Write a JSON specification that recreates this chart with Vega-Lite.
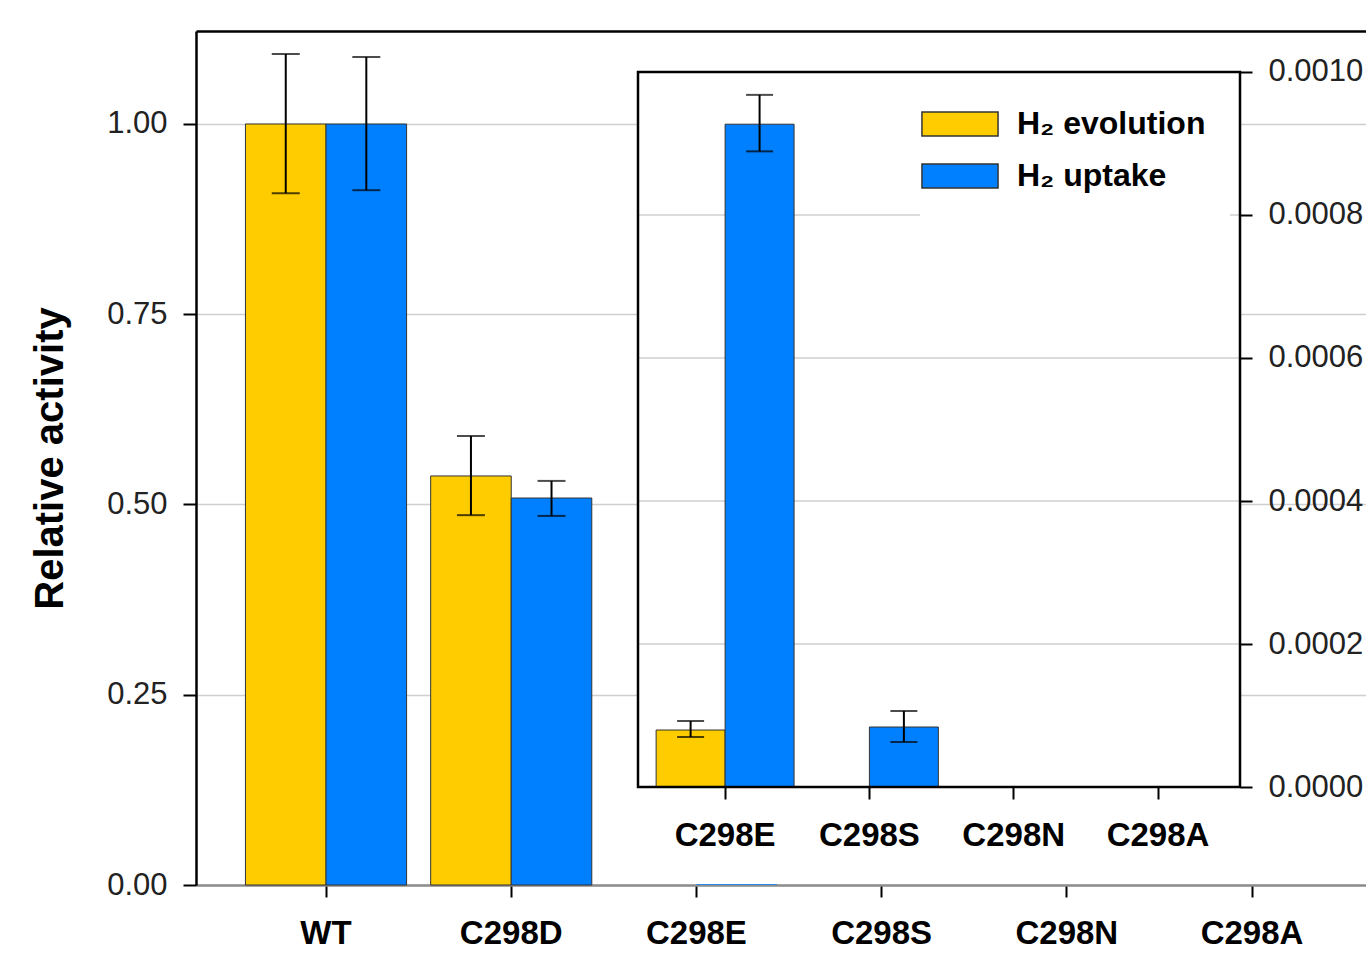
{
  "$schema": "https://vega.github.io/schema/vega-lite/v6.json",
  "autosize": "none",
  "width": 1170,
  "height": 854,
  "padding": {"left": 196, "top": 31, "right": 0, "bottom": 73},
  "background": "white",
  "config": {
    "view": {"stroke": null},
    "font": "Liberation Sans",
    "axis": {"labelFont": "Liberation Sans", "titleFont": "Liberation Sans", "tickColor": "black", "tickWidth": 2, "domainWidth": 2.5}
  },
  "datasets": {
    "activity": [
      {"mutant": "WT", "series": "H₂ evolution", "activity": 1.0, "lo": 0.909, "hi": 1.092},
      {"mutant": "WT", "series": "H₂ uptake", "activity": 1.0, "lo": 0.913, "hi": 1.088},
      {"mutant": "C298D", "series": "H₂ evolution", "activity": 0.5375, "lo": 0.486, "hi": 0.590},
      {"mutant": "C298D", "series": "H₂ uptake", "activity": 0.5085, "lo": 0.485, "hi": 0.531},
      {"mutant": "C298E", "series": "H₂ evolution", "activity": 0.0000797, "lo": 0.0000699, "hi": 0.0000923},
      {"mutant": "C298E", "series": "H₂ uptake", "activity": 0.000927, "lo": 0.000889, "hi": 0.000968},
      {"mutant": "C298S", "series": "H₂ evolution", "activity": 0, "lo": null, "hi": null},
      {"mutant": "C298S", "series": "H₂ uptake", "activity": 0.0000839, "lo": 0.0000629, "hi": 0.0001063},
      {"mutant": "C298N", "series": "H₂ evolution", "activity": 0, "lo": null, "hi": null},
      {"mutant": "C298N", "series": "H₂ uptake", "activity": 0, "lo": null, "hi": null},
      {"mutant": "C298A", "series": "H₂ evolution", "activity": 0, "lo": null, "hi": null},
      {"mutant": "C298A", "series": "H₂ uptake", "activity": 0, "lo": null, "hi": null}
    ],
    "insetGrid": [{"tick": 0.0002}, {"tick": 0.0004}, {"tick": 0.0006}, {"tick": 0.0008}],
    "insetPanel": [{"panel": "inset"}]
  },
  "resolve": {"scale": {"x": "independent", "y": "independent", "xOffset": "independent"}},
  "layer": [
    {
      "data": {"name": "activity"},
      "layer": [
        {
          "mark": {"type": "bar", "strokeWidth": 1},
          "encoding": {
            "x": {
              "field": "mutant", "type": "nominal",
              "scale": {"domain": ["WT", "C298D", "C298E", "C298S", "C298N", "C298A"], "paddingInner": 0.13, "paddingOuter": 0.2237, "align": 0.597},
              "axis": {"title": null, "orient": "bottom", "labelAngle": 0, "domainColor": "#8c8c8c", "domainWidth": 2.5, "tickSize": 12, "labelPadding": 20, "labelFontSize": 33, "labelFontWeight": "bold", "labelColor": "black", "grid": false}
            },
            "xOffset": {"field": "series", "type": "nominal", "scale": {"domain": ["H₂ evolution", "H₂ uptake"], "paddingInner": 0, "paddingOuter": 0}},
            "y": {
              "field": "activity", "type": "quantitative",
              "scale": {"domain": [0, 1.1222], "nice": false, "zero": true},
              "axis": {"title": "Relative activity", "orient": "left", "values": [0, 0.25, 0.5, 0.75, 1.0], "format": ".2f", "domainColor": "black", "tickSize": 13, "labelPadding": 16, "labelFontSize": 31, "labelColor": "#222", "grid": true, "gridColor": "#cfcfcf", "gridWidth": 1.5, "titleFontSize": 40, "titleFontWeight": "bold", "titleColor": "black", "titlePadding": 36}
            },
            "color": {
              "field": "series", "type": "nominal",
              "scale": {"domain": ["H₂ evolution", "H₂ uptake"], "range": ["#FFCC00", "#0080FF"]},
              "legend": {
                "orient": "none", "legendX": 724, "legendY": 53, "title": null,
                "symbolType": "M-3.17,-1L3.17,-1L3.17,1L-3.17,1Z", "symbolSize": 576,
                "symbolStrokeColor": "#333", "symbolStrokeWidth": 1.5, "symbolOpacity": 1,
                "labelFont": "Liberation Sans", "labelFontSize": 32, "labelFontWeight": "bold", "labelColor": "black",
                "labelOffset": 41, "rowPadding": 20, "padding": 24, "fillColor": "white", "labelLimit": 0
              }
            },
            "stroke": {"condition": {"test": "datum.activity < 0.01", "value": "transparent"}, "value": "#333"}
          }
        },
        {
          "transform": [{"filter": "datum.hi != null && datum.activity > 0.1"}],
          "mark": {"type": "rule", "color": "black", "strokeWidth": 2},
          "encoding": {
            "x": {"field": "mutant", "type": "nominal"},
            "xOffset": {"field": "series", "type": "nominal"},
            "y": {"field": "lo", "type": "quantitative", "title": "Relative activity"},
            "y2": {"field": "hi"}
          }
        },
        {
          "transform": [{"filter": "datum.hi != null && datum.activity > 0.1"}],
          "mark": {"type": "tick", "color": "black", "thickness": 2, "size": 28},
          "encoding": {
            "x": {"field": "mutant", "type": "nominal"},
            "xOffset": {"field": "series", "type": "nominal"},
            "y": {"field": "lo", "type": "quantitative", "title": "Relative activity"}
          }
        },
        {
          "transform": [{"filter": "datum.hi != null && datum.activity > 0.1"}],
          "mark": {"type": "tick", "color": "black", "thickness": 2, "size": 28},
          "encoding": {
            "x": {"field": "mutant", "type": "nominal"},
            "xOffset": {"field": "series", "type": "nominal"},
            "y": {"field": "hi", "type": "quantitative", "title": "Relative activity"}
          }
        }
      ]
    },
    {
      "layer": [
        {
          "data": {"name": "insetPanel"},
          "mark": {"type": "rect", "fill": "white", "strokeWidth": 0},
          "encoding": {
            "x": {
              "field": "panel", "type": "nominal",
              "scale": {"domain": ["inset"], "paddingInner": 0, "paddingOuter": 0.47176, "align": 0.77817},
              "axis": {"orient": "top", "title": null, "domain": true, "domainColor": "black", "domainWidth": 2.5, "ticks": false, "labels": false, "grid": false}
            },
            "y": {"datum": 0, "type": "quantitative", "scale": {"domain": [-0.00013706, 0.00105734], "nice": false, "zero": false}, "axis": null},
            "y2": {"datum": 0.001}
          }
        },
        {
          "data": {"name": "insetGrid"},
          "mark": {"type": "rect", "filled": false, "stroke": "#cfcfcf", "strokeWidth": 1.5},
          "encoding": {
            "x": {"datum": "inset", "type": "nominal"},
            "y": {"field": "tick", "type": "quantitative"},
            "y2": {"field": "tick"}
          }
        }
      ]
    },
    {
      "data": {"name": "activity"},
      "transform": [{"filter": "indexof(['C298E','C298S','C298N','C298A'], datum.mutant) >= 0"}],
      "layer": [
        {
          "mark": {"type": "bar", "stroke": "#333", "strokeWidth": 1},
          "encoding": {
            "x": {
              "field": "mutant", "type": "nominal",
              "scale": {"domain": ["pad1", "pad2", "pad3", "C298E", "C298S", "C298N", "C298A"], "paddingInner": 0.044, "paddingOuter": 0.576, "align": 0.1637},
              "axis": {"title": null, "orient": "bottom", "offset": -98, "values": ["C298E", "C298S", "C298N", "C298A"], "labelAngle": 0, "domain": false, "tickSize": 12, "labelPadding": 20, "labelFontSize": 33, "labelFontWeight": "bold", "labelColor": "black", "grid": false}
            },
            "xOffset": {"field": "series", "type": "nominal", "scale": {"domain": ["H₂ evolution", "H₂ uptake"], "paddingInner": 0, "paddingOuter": 0}},
            "y": {
              "field": "activity", "type": "quantitative",
              "scale": {"domain": [-0.00013706, 0.00105734], "nice": false, "zero": false},
              "axis": {"title": null, "orient": "right", "offset": -126, "values": [0, 0.0002, 0.0004, 0.0006, 0.0008, 0.001], "format": ".4f", "domain": false, "tickSize": 12, "labelPadding": 16, "labelFontSize": 31, "labelColor": "#222", "grid": false}
            },
            "y2": {"datum": 0},
            "color": {"field": "series", "type": "nominal"}
          }
        },
        {
          "transform": [{"filter": "datum.hi != null"}],
          "mark": {"type": "rule", "color": "black", "strokeWidth": 2},
          "encoding": {
            "x": {"field": "mutant", "type": "nominal"},
            "xOffset": {"field": "series", "type": "nominal"},
            "y": {"field": "lo", "type": "quantitative"},
            "y2": {"field": "hi"}
          }
        },
        {
          "transform": [{"filter": "datum.hi != null"}],
          "mark": {"type": "tick", "color": "black", "thickness": 2, "size": 27},
          "encoding": {
            "x": {"field": "mutant", "type": "nominal"},
            "xOffset": {"field": "series", "type": "nominal"},
            "y": {"field": "lo", "type": "quantitative"}
          }
        },
        {
          "transform": [{"filter": "datum.hi != null"}],
          "mark": {"type": "tick", "color": "black", "thickness": 2, "size": 27},
          "encoding": {
            "x": {"field": "mutant", "type": "nominal"},
            "xOffset": {"field": "series", "type": "nominal"},
            "y": {"field": "hi", "type": "quantitative"}
          }
        }
      ]
    },
    {
      "data": {"name": "insetPanel"},
      "mark": {"type": "rect", "filled": false, "stroke": "black", "strokeWidth": 2.5},
      "encoding": {
        "x": {
          "field": "panel", "type": "nominal",
          "scale": {"domain": ["inset"], "paddingInner": 0, "paddingOuter": 0.47176, "align": 0.77817},
          "axis": null
        },
        "y": {"datum": 0, "type": "quantitative", "scale": {"domain": [-0.00013706, 0.00105734], "nice": false, "zero": false}, "axis": null},
        "y2": {"datum": 0.001}
      }
    }
  ]
}
